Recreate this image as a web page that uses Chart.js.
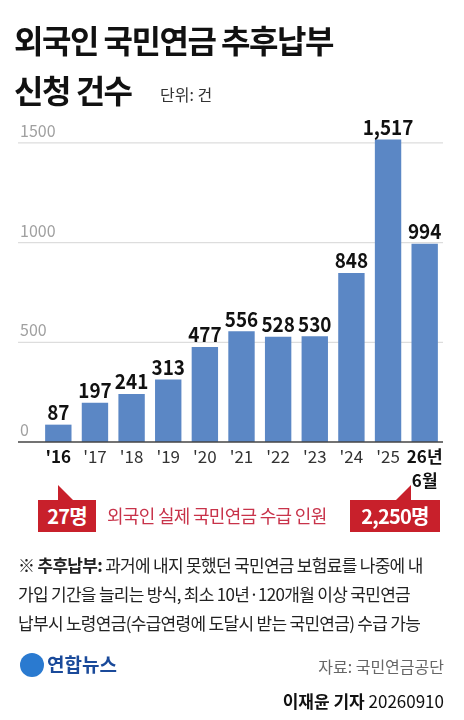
<!DOCTYPE html>
<html><head><meta charset="utf-8">
<script src="https://cdn.jsdelivr.net/npm/chart.js@4"></script>
<style>
body{margin:0;width:464px;height:720px;background:#fff;font-family:"Noto Sans CJK KR","Noto Sans",sans-serif;position:relative;overflow:hidden;color:#111}
#c{position:absolute;left:0;top:0}
.t{position:absolute;white-space:nowrap}
.box{position:absolute;background:#c8202b;color:#fff;font-weight:bold;font-size:20px;text-align:center;line-height:32px;height:32px;letter-spacing:-0.8px}
.box:before{content:"";position:absolute;top:-15px;border-style:solid}
.b1:before{left:20px;border-width:15px 0 0 15px;border-color:transparent transparent transparent #c8202b}
.b2:before{left:46px;border-width:15px 15px 0 0;border-color:transparent #c8202b transparent transparent}
</style></head><body>
<canvas id="c" width="464" height="720"></canvas>
<div class="t" style="left:14px;top:14px;font-size:32px;font-weight:bold;letter-spacing:-1.5px;line-height:50px">외국인 국민연금 추후납부<br>신청 건수</div>
<div class="t" style="left:160px;top:82px;font-size:16px;color:#333">단위: 건</div>
<div class="box b1" style="left:38px;top:500px;width:58px">27명</div>
<div class="t" style="left:107px;top:502px;font-size:18px;color:#c8334a;letter-spacing:-0.7px">외국인 실제 국민연금 수급 인원</div>
<div class="box b2" style="left:350px;top:500px;width:90px">2,250명</div>
<div class="t" style="left:18px;top:550px;font-size:17px;line-height:29px;letter-spacing:-0.7px;color:#222"><b>※ 추후납부:</b> 과거에 내지 못했던 국민연금 보험료를 나중에 내<br>가입 기간을 늘리는 방식, 최소 10년·120개월 이상 국민연금<br>납부시 노령연금(수급연령에 도달시 받는 국민연금) 수급 가능</div>
<div class="t" style="left:20px;top:650px;font-size:19px;font-weight:bold;color:#1a4a9a"><span style="display:inline-block;width:24px;height:24px;border-radius:50%;background:#2a7ad0;vertical-align:-5px;margin-right:3px"></span>연합뉴스</div>
<div class="t" style="right:20px;top:654px;font-size:16px;color:#666">자료: 국민연금공단</div>
<div class="t" style="right:20px;top:688px;font-size:17px"><b>이재윤 기자</b> 20260910</div>
<script>
const categories=["'16","'17","'18","'19","'20","'21","'22","'23","'24","'25","26년"];
const values=[87,197,241,313,477,556,528,530,848,1517,994];
const valueLabels=["87","197","241","313","477","556","528","530","848","1,517","994"];
const yTicks=[0,500,1000,1500];
const boldCats=[0,10];
const overlay={id:'ov',beforeDatasetsDraw(ch){
 const c=ch.ctx,y=ch.scales.y;
 c.save();
 yTicks.forEach(v=>{const py=y.getPixelForValue(v);
  if(v!==0){c.strokeStyle='#ddd';c.lineWidth=1.2;c.beginPath();c.moveTo(18,py);c.lineTo(443,py);c.stroke();}
  c.fillStyle='#a0a0a0';c.font='16px "Noto Sans CJK KR"';c.textAlign='left';c.textBaseline='bottom';
  c.fillText(String(v),20,py-4);});
 c.restore();},
 afterDatasetsDraw(ch){
 const c=ch.ctx,y=ch.scales.y;
 c.save();
 const py0=y.getPixelForValue(0);c.strokeStyle='#444';c.lineWidth=1.5;c.beginPath();c.moveTo(18,py0);c.lineTo(443,py0);c.stroke();
 ch.getDatasetMeta(0).data.forEach((b,i)=>{
  c.fillStyle='#111';c.font='bold 21px "Noto Sans CJK KR"';c.textAlign='center';c.textBaseline='bottom';
  c.save();c.translate(b.x,b.y-2);c.scale(0.9,1);c.fillText(valueLabels[i],0,0);c.restore();
  const bold=boldCats.includes(i);
  c.font=(bold?'bold ':'')+'17px "Noto Sans CJK KR"';c.fillStyle=bold?'#111':'#333';c.textBaseline='top';
  c.fillText(categories[i],b.x,py0+6);
  if(i===10){c.font='bold 17px "Noto Sans CJK KR"';c.fillText('6월',b.x,py0+30);}
 });
 c.restore();}};
new Chart(document.getElementById('c'),{type:'bar',
 data:{labels:categories,datasets:[{data:values,backgroundColor:'#5b87c5',categoryPercentage:1,barPercentage:0.72}]},
 options:{responsive:false,animation:false,events:[],
  layout:{padding:{left:40,right:21,top:123,bottom:278}},
  plugins:{legend:{display:false},tooltip:{enabled:false}},
  scales:{x:{display:false},y:{display:false,min:0,max:1600}}},
 plugins:[overlay]});
</script></body></html>
